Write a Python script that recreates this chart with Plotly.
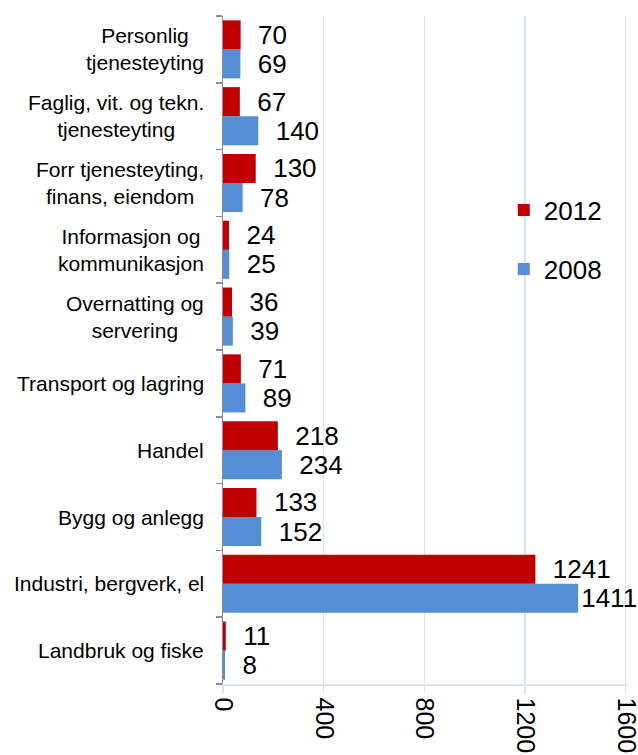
import plotly.graph_objects as go

categories = [
    "Landbruk og fiske",
    "Industri, bergverk, el",
    "Bygg og anlegg",
    "Handel",
    "Transport og lagring",
    "Overnatting og<br>servering",
    "Informasjon og<br>kommunikasjon",
    "Forr tjenesteyting,<br>finans, eiendom",
    "Faglig, vit. og tekn.<br>tjenesteyting",
    "Personlig<br>tjenesteyting",
]
values_2012 = [11, 1241, 133, 218, 71, 36, 24, 130, 67, 70]
values_2008 = [8, 1411, 152, 234, 89, 39, 25, 78, 140, 69]
x_ticks = [0, 400, 800, 1200, 1600]

FONT = "Arial, Liberation Sans, sans-serif"
RED = "#C00000"
BLUE = "#558ED5"
GRID = "#D9E2F1"
AXIS = "#8C8C8C"
XMAX = 1600

def labels(vals):
    pad = "\u00a0\u00a0"
    return [(pad if v < XMAX * 0.85 else "") + str(v) for v in vals]

fig = go.Figure()
fig.add_trace(go.Bar(
    y=categories, x=values_2008, orientation="h", name="2008",
    marker=dict(color=BLUE, line=dict(width=0)),
    text=labels(values_2008), textposition="outside", cliponaxis=False,
    constraintext="none", textfont=dict(family=FONT, size=26, color="#000000"),
    legend="legend2",
))
fig.add_trace(go.Bar(
    y=categories, x=values_2012, orientation="h", name="2012",
    marker=dict(color=RED, line=dict(width=0)),
    text=labels(values_2012), textposition="outside", cliponaxis=False,
    constraintext="none", textfont=dict(family=FONT, size=26, color="#000000"),
    legend="legend",
))

for c in categories:
    fig.add_annotation(
        x=0, xref="paper", y=c, yref="y", text=c, showarrow=False,
        xanchor="right", yanchor="middle", align="center", xshift=-17,
        font=dict(family=FONT, size=21, color="#000000"),
    )

fig.update_layout(
    width=638, height=755,
    margin=dict(l=223, r=11, t=16, b=71, autoexpand=False),
    paper_bgcolor="white", plot_bgcolor="white",
    barmode="group", bargap=0.13, bargroupgap=0,
    font=dict(family=FONT, size=21, color="#000000"),
    legend=dict(x=0.695, xanchor="left", y=0.7096, yanchor="middle",
                font=dict(family=FONT, size=26), bgcolor="rgba(0,0,0,0)"),
    legend2=dict(x=0.695, xanchor="left", y=0.621, yanchor="middle",
                 font=dict(family=FONT, size=26), bgcolor="rgba(0,0,0,0)"),
    showlegend=True,
)
fig.update_xaxes(
    range=[0, XMAX + 5], tickvals=x_ticks, ticktext=[str(t) for t in x_ticks],
    tickangle=90, tickfont=dict(family=FONT, size=25, color="#000000"),
    ticklabeloverflow="allow",
    showgrid=True, gridcolor=GRID, gridwidth=1.5, zeroline=False,
    showline=True, linecolor=GRID, linewidth=1.5,
    ticks="outside", ticklen=7, tickcolor=GRID, tickwidth=1.5,
    automargin=False, fixedrange=True,
)
fig.update_yaxes(
    type="category", categoryorder="array", categoryarray=categories,
    showticklabels=False, tickson="boundaries", ticks="outside",
    ticklen=6, tickcolor=AXIS, tickwidth=1.5,
    showline=True, linecolor=AXIS, linewidth=1.5, showgrid=False,
    zeroline=False, automargin=False, fixedrange=True,
)

fig.write_html(
    "out.html",
    config={"displayModeBar": False, "staticPlot": True},
    post_script="document.body.style.margin='0';document.body.style.padding='0';document.body.style.overflow='hidden';",
)
